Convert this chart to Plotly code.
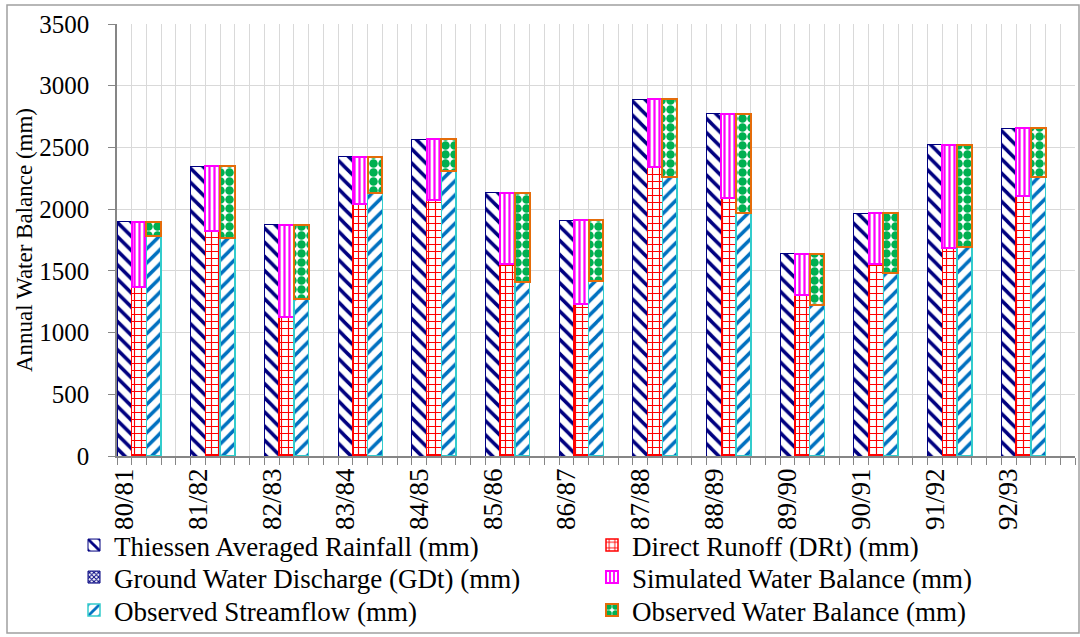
import plotly.graph_objects as go

categories = ["80/81", "81/82", "82/83", "83/84", "84/85", "85/86", "86/87",
              "87/88", "88/89", "89/90", "90/91", "91/92", "92/93"]
rainfall = [1896, 2349, 1875, 2425, 2568, 2134, 1910, 2890, 2771, 1637, 1966, 2522, 2657]
direct_runoff = [1372, 1823, 1129, 2039, 2074, 1556, 1231, 2339, 2088, 1304, 1556, 1688, 2109]
ground_water = [0, 0, 0, 0, 0, 0, 0, 0, 0, 0, 0, 0, 0]
simulated_wb = [524, 526, 746, 386, 494, 578, 679, 551, 683, 333, 410, 834, 548]
observed_sf = [1782, 1764, 1272, 2131, 2312, 1412, 1418, 2263, 1969, 1223, 1480, 1693, 2258]
observed_wb = [114, 585, 603, 294, 256, 722, 492, 627, 802, 414, 486, 829, 399]

SLOTS = 5
n = len(categories)
x_rain = [SLOTS * i for i in range(n)]
x_sim = [SLOTS * i + 1 for i in range(n)]
x_obs = [SLOTS * i + 2 for i in range(n)]

FONT = "Liberation Serif"
FS = 27

def bar(name, legend, x, y, shape, fg, line_color, line_width, size=8, solidity=0.3):
    return go.Bar(
        name=name, legend=legend, x=x, y=y, width=1,
        marker=dict(
            color="white",
            line=dict(color=line_color, width=line_width),
            pattern=dict(shape=shape, fgcolor=fg, bgcolor="white",
                         fillmode="replace", size=size, solidity=solidity),
        ),
    )

fig = go.Figure()
fig.add_trace(bar("Thiessen Averaged Rainfall (mm)", "legend", x_rain, rainfall, "\\", "#000080", "#000080", 1, 10, 0.35))
fig.add_trace(bar("Direct Runoff (DRt) (mm)", "legend2", x_sim, direct_runoff, "+", "#FF0000", "#FF0000", 1.5, 7, 0.3))
fig.add_trace(bar("Ground Water Discharge (GDt) (mm)", "legend3", x_sim, ground_water, "x", "#000080", "#000080", 1, 4, 0.5))
fig.add_trace(bar("Simulated Water Balance (mm)", "legend4", x_sim, simulated_wb, "|", "#FF00FF", "#FF00FF", 2, 5, 0.45))
fig.add_trace(bar("Observed Streamflow (mm)", "legend5", x_obs, observed_sf, "/", "#0070C0", "#33CCCC", 1.5, 10, 0.35))
fig.add_trace(bar("Observed Water Balance (mm)", "legend6", x_obs, observed_wb, ".", "#00B050", "#E46C0A", 2, 9, 0.7))

col_x = [(74 - 117) / 958, (592 - 117) / 958]
row_y = [(456 - 521) / 432, (456 - 553) / 432, (456 - 586) / 432]

def legend_box(col, row):
    return dict(
        orientation="h", x=col_x[col], y=row_y[row], xanchor="left", yanchor="top",
        font=dict(family=FONT, size=FS, color="black"),
        itemwidth=30, bgcolor="rgba(0,0,0,0)",
    )

fig.update_layout(
    width=1080, height=637,
    barmode="stack",
    plot_bgcolor="white", paper_bgcolor="white",
    margin=dict(l=117, r=5, t=24, b=181, autoexpand=False),
    font=dict(family=FONT, size=FS, color="black"),
    showlegend=True,
    legend=legend_box(0, 0),
    legend2=legend_box(1, 0),
    legend3=legend_box(0, 1),
    legend4=legend_box(1, 1),
    legend5=legend_box(0, 2),
    legend6=legend_box(1, 2),
    xaxis=dict(
        range=[-0.5, SLOTS * n - 0.5],
        tickmode="array", tickvals=x_rain, ticktext=categories,
        tickangle=-90, ticks="", showgrid=False,
        showline=True, linecolor="#868686", linewidth=1.5,
        tickfont=dict(family=FONT, size=FS),
        minor=dict(tick0=0.5, dtick=1, ticks="outside", ticklen=7,
                   tickcolor="#868686", showgrid=True, gridcolor="#D9D9D9", gridwidth=1),
        zeroline=False,
    ),
    yaxis=dict(
        range=[0, 3500], dtick=500, tick0=0,
        showgrid=True, gridcolor="#D9D9D9", gridwidth=1,
        showline=True, linecolor="#868686", linewidth=1.5,
        ticks="outside", ticklen=7, tickcolor="#868686",
        ticklabelstandoff=14,
        tickfont=dict(family=FONT, size=25),
        title=dict(text="Annual Water Balance (mm)", font=dict(family=FONT, size=23), standoff=0),
        zeroline=False,
    ),
)

fig.add_shape(type="rect", xref="paper", yref="paper",
              x0=(7 - 117) / 958, x1=(1079 - 117) / 958,
              y0=(456 - 633) / 432, y1=(456 - 5) / 432,
              line=dict(color="#A0A0A0", width=1.5), fillcolor="rgba(0,0,0,0)", layer="below")

fig.write_html("out.html", config={"displayModeBar": False},
               post_script="document.body.style.margin='0px';")
